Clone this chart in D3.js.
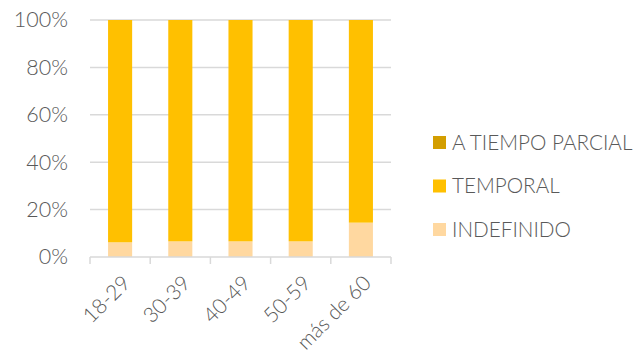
<!DOCTYPE html>
<html>
<head>
<meta charset="utf-8">
<script src="https://cdn.jsdelivr.net/npm/d3@7"></script>
<style>
  body { margin: 0; background: #fff; }
  text { font-family: "Lato", sans-serif; font-weight: 300; fill: #595959; }
</style>
</head>
<body>
<div id="chart"></div>
<script>
 //categories and series (percent of each group)
 var categories = ["18-29", "30-39", "40-49", "50-59", "más de 60"];
 var indefinido = [6.2, 6.6, 6.6, 6.6, 14.5];
 var temporal = [93.8, 93.4, 93.4, 93.4, 85.5];
 var parcial = [0, 0, 0, 0, 0];
 var yTicks = [0, 20, 40, 60, 80, 100];

 var seriesNames = ["INDEFINIDO", "TEMPORAL", "A TIEMPO PARCIAL"];
 var seriesColors = ["#FFD8A0", "#FFC000", "#D39E00"];

 var margin = { left: 90, right: 247, top: 20, bottom: 102 };
 var width = 638 - margin.left - margin.right,
     height = 359 - margin.top - margin.bottom;

 var svg = d3.select("#chart")
     .append("svg")
     .attr("width", 638)
     .attr("height", 359);

 var chartGroup = svg.append("g")
     .attr("transform", "translate(" + margin.left + "," + margin.top + ")");

 //build rows for the stack
 var rows = categories.map(function (c, i) {
     return { cat: c, INDEFINIDO: indefinido[i], TEMPORAL: temporal[i], "A TIEMPO PARCIAL": parcial[i] };
 });
 var stacked = d3.stack().keys(seriesNames)(rows);

 var xScale = d3.scaleBand()
     .domain(categories)
     .range([0, width])
     .paddingInner(0.6)
     .paddingOuter(0.3);

 var yScale = d3.scaleLinear()
     .domain([0, 100])
     .range([height, 0]);

 //gridlines
 chartGroup.selectAll(".grid")
     .data(yTicks.slice(1))
     .enter()
     .append("line")
     .attr("x1", 0)
     .attr("x2", width)
     .attr("y1", function (d) { return yScale(d); })
     .attr("y2", function (d) { return yScale(d); })
     .attr("stroke", "#d9d9d9")
     .attr("stroke-width", 1.5);

 //bars
 chartGroup.selectAll(".series")
     .data(stacked)
     .enter()
     .append("g")
     .attr("fill", function (d, i) { return seriesColors[i]; })
     .selectAll("rect")
     .data(function (d) { return d; })
     .enter()
     .append("rect")
     .attr("x", function (d) { return xScale(d.data.cat); })
     .attr("y", function (d) { return yScale(d[1]); })
     .attr("width", xScale.bandwidth())
     .attr("height", function (d) { return yScale(d[0]) - yScale(d[1]); });

 //y axis labels
 var yAxis = d3.axisLeft(yScale)
     .tickValues(yTicks)
     .tickSize(0)
     .tickPadding(22)
     .tickFormat(function (d) { return d + "%"; });

 var yg = chartGroup.append("g").call(yAxis);
 yg.select(".domain").remove();
 yg.selectAll("text").attr("font-size", "21.5px").style("fill", "#595959");

 //x axis: line with category boundary ticks
 var xg = chartGroup.append("g")
     .attr("transform", "translate(0," + height + ")");
 xg.append("line")
     .attr("x1", 0).attr("x2", width)
     .attr("stroke", "#d9d9d9").attr("stroke-width", 1.5);
 var step = width / categories.length;
 xg.selectAll(".tick")
     .data(d3.range(categories.length + 1))
     .enter()
     .append("line")
     .attr("x1", function (d) { return d * step; })
     .attr("x2", function (d) { return d * step; })
     .attr("y1", 0).attr("y2", 7)
     .attr("stroke", "#d9d9d9").attr("stroke-width", 1.5);

 xg.selectAll(".xlabel")
     .data(categories)
     .enter()
     .append("text")
     .attr("text-anchor", "end")
     .attr("font-size", "21px")
     .attr("transform", function (d) {
         var cx = xScale(d) + xScale.bandwidth() / 2 + 1;
         return "translate(" + cx + ",17) rotate(-45)";
     })
     .attr("dy", "0.7em")
     .text(function (d) { return d; });

 //legend (reverse order, top is A TIEMPO PARCIAL)
 var legendItems = seriesNames.slice().reverse();
 var legendColors = seriesColors.slice().reverse();
 var legend = svg.append("g").attr("transform", "translate(433,136)");
 var lg = legend.selectAll("g")
     .data(legendItems)
     .enter()
     .append("g")
     .attr("transform", function (d, i) { return "translate(0," + (i * 43.5) + ")"; });
 lg.append("rect")
     .attr("width", 13).attr("height", 13)
     .attr("fill", function (d, i) { return legendColors[i]; });
 lg.append("text")
     .attr("x", 19)
     .attr("y", 6.5)
     .attr("dy", "0.36em")
     .attr("font-size", "20.7px")
     .text(function (d) { return d; });
</script>
</body>
</html>
